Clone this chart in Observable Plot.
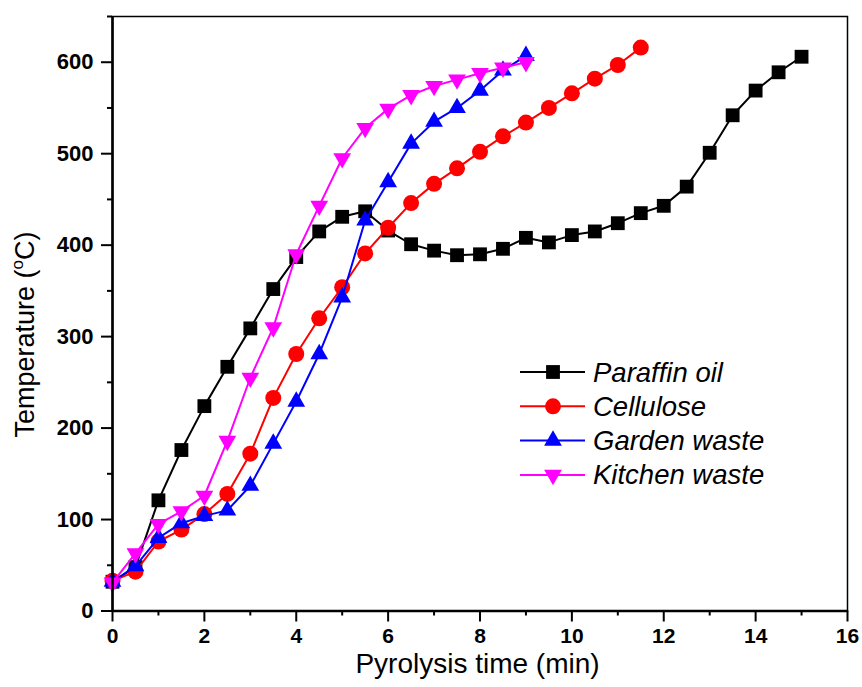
<!DOCTYPE html>
<html><head><meta charset="utf-8">
<script src="https://cdn.jsdelivr.net/npm/d3@7"></script>
<script src="https://cdn.jsdelivr.net/npm/@observablehq/plot@0.6"></script>
<style>
body{margin:0;background:#fff}
#chart svg{display:block}
g[aria-label="x-axis tick label"] text{font-family:"Liberation Sans", Arial, sans-serif;font-weight:bold;font-size:21px;fill:#000}
g[aria-label="y-axis tick label"] text{font-family:"Liberation Sans", Arial, sans-serif;font-weight:bold;font-size:22px;fill:#000}
</style>
</head><body><div id="chart"></div>
<script>
const seriesNames = ["Paraffin oil", "Cellulose", "Garden waste", "Kitchen waste"];
const seriesColors = ["#000000", "#ff0000", "#0000ff", "#ff00ff"];

const timeParaffin = [0,0.5,1,1.5,2,2.5,3,3.5,4,4.5,5,5.5,6,6.5,7,7.5,8,8.5,9,9.5,10,10.5,11,11.5,12,12.5,13,13.5,14,14.5,15];
const tempParaffin = [32,48,121,176,224,267,309,352,387,415,431,437,416,401,394,389,390,396,408,403,411,415,424,435,443,464,501,542,569,589,606];

const timeCellulose = [0,0.5,1,1.5,2,2.5,3,3.5,4,4.5,5,5.5,6,6.5,7,7.5,8,8.5,9,9.5,10,10.5,11,11.5];
const tempCellulose = [33,43,76,89,106,128,172,233,281,320,354,391,419,446,467,484,502,519,534,550,566,582,597,616];

const timeGarden = [0,0.5,1,1.5,2,2.5,3,3.5,4,4.5,5,5.5,6,6.5,7,7.5,8,8.5,9];
const tempGarden = [32,49,80,96,104,110,137,183,229,281,343,427,469,511,535,550,569,591,607];

const timeKitchen = [0,0.5,1,1.5,2,2.5,3,3.5,4,4.5,5,5.5,6,6.5,7,7.5,8,8.5,9];
const tempKitchen = [31,63,95,109,126,186,255,310,390,443,495,528,549,564,574,581,588,594,600];

const xMajorTicks = [0,2,4,6,8,10,12,14,16];
const xMinorTicks = [1,3,5,7,9,11,13,15];
const yMajorTicks = [0,100,200,300,400,500,600];
const yMinorTicks = [50,150,250,350,450,550,650];

const xTitle = "Pyrolysis time (min)";
const yTitle = "Temperature (";
const yTitleSup = "o";
const yTitleEnd = "C)";

const toRows = (ts, vs) => ts.map((t, i) => ({t, v: vs[i]}));
const series = [
  {name: seriesNames[0], color: seriesColors[0], symbol: "square", r: 7.8, rotate: 0, data: toRows(timeParaffin, tempParaffin)},
  {name: seriesNames[1], color: seriesColors[1], symbol: "circle", r: 8, rotate: 0, data: toRows(timeCellulose, tempCellulose)},
  {name: seriesNames[2], color: seriesColors[2], symbol: "triangle", r: 6.6, rotate: 0, data: toRows(timeGarden, tempGarden)},
  {name: seriesNames[3], color: seriesColors[3], symbol: "triangle", r: 6.6, rotate: 180, data: toRows(timeKitchen, tempKitchen)}
];

const marks = [
  Plot.axisX({ticks: xMajorTicks, tickSize: 11, tickPadding: 6, strokeWidth: 2, label: null, fontSize: 21, fontWeight: "bold"}),
  Plot.axisX({ticks: xMinorTicks, tickSize: 5, tickFormat: () => "", strokeWidth: 2, label: null}),
  Plot.axisY({ticks: yMajorTicks, tickSize: 11, tickPadding: 8, strokeWidth: 2, label: null, fontSize: 22, fontWeight: "bold"}),
  Plot.axisY({ticks: yMinorTicks, tickSize: 5, tickFormat: () => "", strokeWidth: 2, label: null}),
  Plot.frame({stroke: "#000", strokeWidth: 1.5})
];
for (const s of series) {
  marks.push(Plot.line(s.data, {x: "t", y: "v", stroke: s.color, strokeWidth: 2}));
  marks.push(Plot.dot(s.data, {x: "t", y: "v", symbol: () => s.symbol, r: s.r, fill: s.color, stroke: "none", rotate: s.rotate}));
}
marks.push(Plot.ruleX([0], {stroke: "#000", strokeWidth: 2.6}));
marks.push(Plot.ruleY([0], {stroke: "#000", strokeWidth: 2.6}));

const chart = Plot.plot({
  width: 862, height: 687,
  marginLeft: 112, marginRight: 15, marginTop: 16, marginBottom: 76.5,
  x: {domain: [0, 16]},
  y: {domain: [0, 650]},
  symbol: {type: "identity"},
  style: {fontFamily: "Liberation Sans, Arial, sans-serif", background: "#fff", color: "#000", overflow: "visible"},
  marks
});
document.getElementById("chart").appendChild(chart);

const svg = d3.select(chart);
const font = "Liberation Sans, Arial, sans-serif";
svg.append("text").attr("x", 477.5).attr("y", 673).attr("text-anchor", "middle")
  .attr("font-family", font).attr("font-size", 28).attr("font-weight", "normal").attr("fill", "#000").text(xTitle);
const yt = svg.append("text").attr("transform", "translate(34,334.5) rotate(-90)").attr("text-anchor", "middle")
  .attr("font-family", font).attr("font-size", 27).attr("font-weight", "normal").attr("fill", "#000");
yt.append("tspan").text(yTitle);
yt.append("tspan").attr("font-size", 17).attr("dy", -11).text(yTitleSup);
yt.append("tspan").attr("dy", 11).text(yTitleEnd);

const lg = svg.append("g").attr("text-anchor", "start");
series.forEach((s, i) => {
  const cy = 372 + i * 34.3;
  lg.append("line").attr("x1", 520).attr("x2", 585).attr("y1", cy).attr("y2", cy)
    .attr("stroke", s.color).attr("stroke-width", 2);
  const sym = {square: d3.symbolSquare, circle: d3.symbolCircle, triangle: d3.symbolTriangle}[s.symbol];
  lg.append("path").attr("d", d3.symbol(sym, s.r * s.r * Math.PI)())
    .attr("transform", `translate(553,${cy}) rotate(${s.rotate})`).attr("fill", s.color);
  lg.append("text").attr("x", 593).attr("y", cy + 9.5).attr("text-anchor", "start").attr("font-family", font)
    .attr("font-size", 27.5).attr("font-style", "italic").attr("fill", "#000").text(s.name);
});
</script>
</body></html>
